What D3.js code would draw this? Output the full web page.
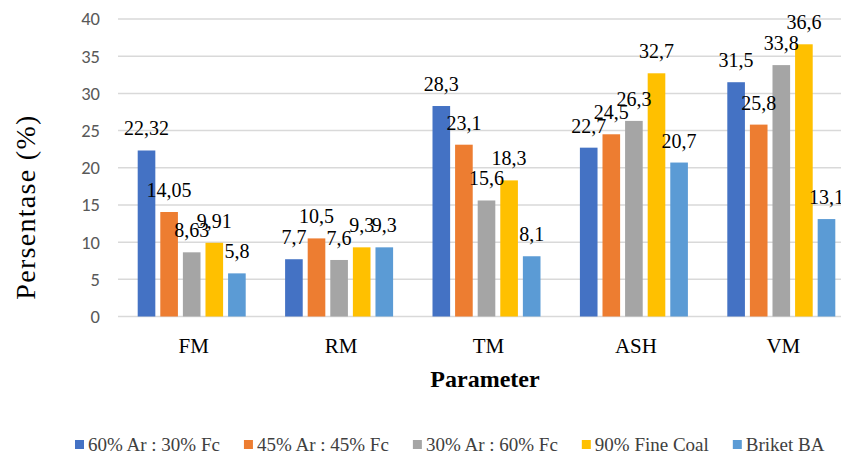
<!DOCTYPE html>
<html><head><meta charset="utf-8">
<script src="https://cdn.jsdelivr.net/npm/d3@7"></script>
<style>body{margin:0;background:#fff}svg{display:block}
.serif{font-family:"Liberation Serif","Tinos","Times New Roman","DejaVu Serif",serif}</style>
</head><body>
<svg id="c" width="841" height="459"></svg>
<script>
const categories = ["FM","RM","TM","ASH","VM"];
const seriesNames = ["60% Ar : 30% Fc","45% Ar : 45% Fc","30% Ar : 60% Fc","90% Fine Coal","Briket BA"];
const s1 = [22.32, 7.7, 28.3, 22.7, 31.5];
const s2 = [14.05, 10.5, 23.1, 24.5, 25.8];
const s3 = [8.63, 7.6, 15.6, 26.3, 33.8];
const s4 = [9.91, 9.3, 18.3, 32.7, 36.6];
const s5 = [5.8, 9.3, 8.1, 20.7, 13.1];
const labels1 = ["22,32","7,7","28,3","22,7","31,5"];
const labels2 = ["14,05","10,5","23,1","24,5","25,8"];
const labels3 = ["8,63","7,6","15,6","26,3","33,8"];
const labels4 = ["9,91","9,3","18,3","32,7","36,6"];
const labels5 = ["5,8","9,3","8,1","20,7","13,1"];
const yTicks = [0,5,10,15,20,25,30,35,40];
const colors = ["#4472C4","#ED7D31","#A5A5A5","#FFC000","#5B9BD5"];

const seriesVals = [s1,s2,s3,s4,s5];
const seriesLabels = [labels1,labels2,labels3,labels4,labels5];

const svg = d3.select("#c");
const x0 = d3.scaleBand().domain(categories).range([118, 855]).padding(0);
const groupW = 108;
const x1 = d3.scaleBand().domain(d3.range(5)).range([0, groupW]).paddingInner(0.22).paddingOuter(0);
const y = d3.scaleLinear().domain([0, 40]).range([316.5, 19]);

svg.append("g").selectAll("line").data(yTicks).join("line")
  .attr("x1", 118).attr("x2", 841)
  .attr("y1", d => y(d)).attr("y2", d => y(d))
  .attr("stroke", "#D9D9D9").attr("stroke-width", 1.5);

svg.append("g").selectAll("text").data(yTicks).join("text")
  .attr("x", 100).attr("y", d => y(d)).attr("dy", "0.35em")
  .attr("text-anchor", "end")
  .attr("font-family", "Carlito, 'Liberation Sans', Arial, sans-serif")
  .attr("font-size", 18.5).attr("fill", "#595959")
  .text(d => d);

const data = [];
categories.forEach((c, ci) => {
  seriesVals.forEach((sv, si) => {
    data.push({c, si, v: sv[ci], label: seriesLabels[si][ci]});
  });
});
const gx = c => x0(c) + (x0.bandwidth() - groupW) / 2;

svg.append("g").selectAll("rect").data(data).join("rect")
  .attr("x", d => gx(d.c) + x1(d.si))
  .attr("width", x1.bandwidth())
  .attr("y", d => y(d.v))
  .attr("height", d => y(0) - y(d.v))
  .attr("fill", d => colors[d.si]);

svg.append("g").selectAll("text").data(data).join("text")
  .attr("class", "serif")
  .attr("x", d => gx(d.c) + x1(d.si) + x1.bandwidth() / 2)
  .attr("y", d => y(d.v) - 15)
  .attr("text-anchor", "middle")
  .attr("font-size", 20).attr("fill", "#000")
  .text(d => d.label);

svg.append("g").selectAll("text").data(categories).join("text")
  .attr("class", "serif")
  .attr("x", d => x0(d) + x0.bandwidth() / 2 + 2)
  .attr("y", 353)
  .attr("text-anchor", "middle")
  .attr("font-size", 21).attr("fill", "#000")
  .text(d => d);

svg.append("text")
  .attr("class", "serif")
  .attr("x", 485).attr("y", 387)
  .attr("text-anchor", "middle")
  .attr("font-size", 24).attr("font-weight", "bold").attr("fill", "#000")
  .text("Parameter");

svg.append("text")
  .attr("class", "serif")
  .attr("transform", "translate(35,207) rotate(-90)")
  .attr("text-anchor", "middle")
  .attr("font-size", 28).attr("letter-spacing", 1.3).attr("fill", "#000")
  .text("Persentase (%)");

const lg = svg.append("g");
let lx = 75;
const ly = 451;
seriesNames.forEach((n, i) => {
  const g = lg.append("g").attr("transform", `translate(${lx},0)`);
  g.append("rect").attr("x", 0).attr("y", ly - 11).attr("width", 9).attr("height", 9).attr("fill", colors[i]);
  const t = g.append("text").attr("class", "serif").attr("x", 13).attr("y", ly)
    .attr("font-size", 19).attr("fill", "#404040").text(n);
  lx += 13 + t.node().getComputedTextLength() + 24;
});
</script>
</body></html>
